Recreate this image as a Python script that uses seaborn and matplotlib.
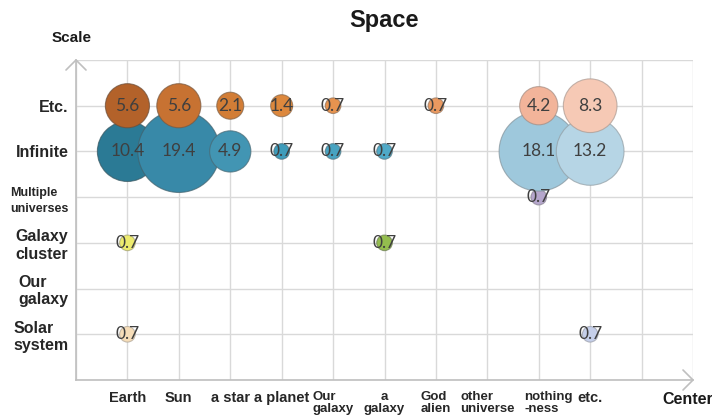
import matplotlib
matplotlib.use("Agg")
import matplotlib.pyplot as plt
import matplotlib.colors as mcolors
import matplotlib.transforms as mtransforms
import seaborn as sns
import pandas as pd

# Axis categories (tick labels)
centers = ["Earth", "Sun", "a star", "a planet", "Our\ngalaxy", "a\ngalaxy",
           "God\nalien", "other\nuniverse", "nothing\n-ness", "etc."]
scales = ["Solar\nsystem", "Our\ngalaxy", "Galaxy\ncluster",
          "Multiple\nuniverses", "Infinite", "Etc."]
scale_sizes = [11.5, 11.5, 11.5, 9, 11.5, 11.5]

# Bubbles: centre index (into centers), scale index (into scales), share in %
bubble_center = [0, 9,
                 0, 5,
                 8,
                 0, 1, 2, 3, 4, 5, 8, 9,
                 0, 1, 2, 3, 4, 6, 8, 9]
bubble_scale = [0, 0,
                2, 2,
                3,
                4, 4, 4, 4, 4, 4, 4, 4,
                5, 5, 5, 5, 5, 5, 5, 5]
bubble_share = [0.7, 0.7,
                0.7, 0.7,
                0.7,
                10.4, 19.4, 4.9, 0.7, 0.7, 0.7, 18.1, 13.2,
                5.6, 5.6, 2.1, 1.4, 0.7, 0.7, 4.2, 8.3]
bubble_color = ["#F6DDB8", "#C5CFEA",
                "#EDEB6E", "#94BD4E",
                "#B5A6CC",
                "#2B7A95", "#3889A8", "#4295B3", "#3E9CBB", "#48A3C1",
                "#4FA9C7", "#9EC8DC", "#B6D5E5",
                "#B3622A", "#C77232", "#D27D36", "#DD883D", "#E7934F",
                "#EA9960", "#F2B49A", "#F6C9B5"]

df = pd.DataFrame({
    "center": [c + 1 for c in bubble_center],
    "scale": [s + 1 for s in bubble_scale],
    "share": bubble_share,
    "id": [str(i) for i in range(len(bubble_share))],
})

sns.set_style("white")
plt.rcParams["font.family"] = ["Liberation Sans", "DejaVu Sans"]

fig = plt.figure(figsize=(7.12, 4.20), dpi=100)
ax = fig.add_axes([76 / 712, 40 / 420, 617 / 712, 320 / 420])

grid_c = "#D9D9D9"
axis_c = "#BFBFBF"

max_share = max(bubble_share)
min_share = min(bubble_share)
area_per_unit = 180.0  # marker area (pt^2) per percentage point

sns.scatterplot(
    data=df, x="center", y="scale", size="share", hue="id",
    palette=dict(zip(df["id"], bubble_color)),
    sizes=(min_share * area_per_unit, max_share * area_per_unit),
    size_norm=(min_share, max_share),
    legend=False, ax=ax, zorder=3, clip_on=False,
)
ax.set_xlabel("")
ax.set_ylabel("")

def edge_of(c, f=0.75):
    r, g, b = mcolors.to_rgb(c)
    m = (r + g + b) / 3
    return (0.5 * m * f + 0.5 * r * f, 0.5 * m * f + 0.5 * g * f,
            0.5 * m * f + 0.5 * b * f, 0.7)

pts = ax.collections[0]
pts.set_edgecolors([edge_of(c) for c in bubble_color])
pts.set_linewidths(0.8)

for cx, sy, v in zip(df["center"], df["scale"], df["share"]):
    ax.text(cx, sy, f"{v:.1f}", ha="center", va="center", fontsize=12.5,
            color="#3F3F3F", zorder=4, family=["Lato", "DejaVu Sans"])

ax.set_xlim(0, 12)
ax.set_ylim(0, 7)

ax.set_xticks(range(0, 13))
ax.set_xticklabels([""] + centers + ["", ""])
ax.set_yticks(range(0, 8))
ax.set_yticklabels([""] + scales + [""])

ax.tick_params(axis="x", length=4, width=1, color=axis_c, pad=4)
ax.tick_params(axis="y", length=5, width=1, color=axis_c, pad=0.5)

for lab in ax.get_xticklabels()[1:11]:
    txt = lab.get_text()
    lab.set_fontweight("bold")
    lab.set_fontsize(9.5 if "\n" in txt else 10.5)
    lab.set_linespacing(1.0)
    lab.set_color("#262626")
    lab.set_multialignment("center" if txt == "a\ngalaxy" else "left")
    if txt == "nothing\n-ness":
        lab.set_transform(lab.get_transform() + mtransforms.ScaledTranslation(
            10 / 100, 0, fig.dpi_scale_trans))

for lab, fs in zip(ax.get_yticklabels()[1:7], scale_sizes):
    lab.set_fontweight("bold")
    lab.set_fontsize(fs)
    lab.set_linespacing(1.45 if fs < 10 else 1.2)
    lab.set_color("#262626")
    lab.set_multialignment("left")

ax.grid(True, color=grid_c, linewidth=1)
ax.set_axisbelow(True)
for side in ("top", "right"):
    ax.spines[side].set_visible(False)
for side in ("left", "bottom"):
    ax.spines[side].set_color(axis_c)
    ax.spines[side].set_linewidth(1.2)

# open arrow heads at the axis ends
ah_x = 10 / 617
ah_y = 10 / 320
ax.plot([-ah_x, 0, ah_x], [1 - ah_y, 1, 1 - ah_y], transform=ax.transAxes,
        color=axis_c, lw=1.2, clip_on=False, zorder=2)
ax.plot([1 - ah_x, 1, 1 - ah_x], [-ah_y, 0, ah_y], transform=ax.transAxes,
        color=axis_c, lw=1.2, clip_on=False, zorder=2)

fig.text(384 / 712, 1 - 20 / 420, "Space", ha="center", va="center",
         fontsize=17, fontweight="bold", color="#1A1A1A")
fig.text(72 / 712, 1 - 38 / 420, "Scale", ha="center", va="center",
         fontsize=11, fontweight="bold", color="#1A1A1A")
fig.text(662 / 712, 1 - 399 / 420, "Center", ha="left", va="center",
         fontsize=11.5, fontweight="bold", color="#1A1A1A")

fig.savefig("out.png", dpi=100, facecolor="white")
